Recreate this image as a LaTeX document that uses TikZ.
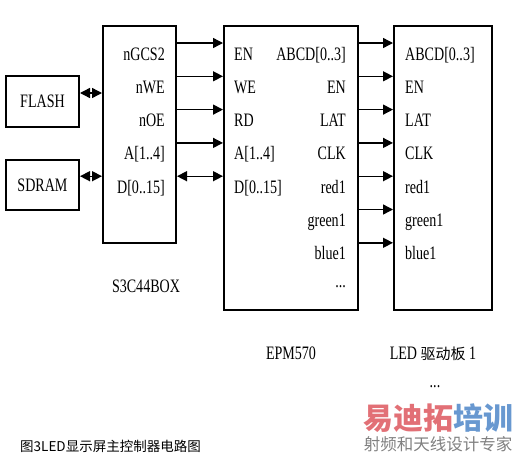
\documentclass[tikz,border=0pt]{standalone}
\usepackage{fontspec}
\setmainfont{Liberation Serif}[FakeStretch=0.74]
\newfontfamily\cjk{Noto Sans CJK SC}
\usetikzlibrary{arrows.meta}
\definecolor{wmred}{RGB}{226,112,118}
\definecolor{wmblue}{RGB}{104,152,208}
\definecolor{wmgrey}{RGB}{128,128,128}

\begin{document}
\begin{tikzpicture}[x=1pt, y=-1pt,
  box/.style = {draw, line width=2pt, rectangle, inner sep=0pt},
  pin/.style = {font=\fontsize{19}{19}\selectfont, inner sep=0pt},
  sig/.style = {line width=1.4pt, -{Triangle[length=10pt,width=10pt]}},
  bus/.style = {line width=1.4pt, {Triangle[length=10pt,width=10pt]}-{Triangle[length=10pt,width=10pt]}},
  title/.style = {font=\fontsize{19}{19}\selectfont, inner sep=0pt, anchor=base}]
  \useasboundingbox (0,0) rectangle (517,456);
  % boxes
  \node[box, pin, minimum width=73pt, minimum height=51pt] (flash) at (42.5,101.5) {FLASH};
  \node[box, pin, minimum width=73pt, minimum height=50pt] (sdram) at (42.5,185) {SDRAM};
  \node[box, minimum width=73pt, minimum height=217pt] (s3c) at (139.5,134.5) {};
  \node[box, minimum width=134pt, minimum height=284pt] (epm) at (291,168) {};
  \node[box, minimum width=98pt, minimum height=284pt] (led) at (443,168) {};
  % rows of signals
  \foreach \k in {0,...,7}
    \coordinate (row\k) at (0,{43+33.3*\k});
  \coordinate (flrow) at (0,93);
  % S3C44BOX pins
  \foreach \txt [count=\k from 0] in {nGCS2, nWE, nOE, {A[1..4]}, {D[0..15]}}
    \node[pin, anchor=base east] (s3c\k) at (165,{60+33.3*\k}) {\txt};
  % EPM570 pins
  \foreach \txt [count=\k from 0] in {EN, WE, RD, {A[1..4]}, {D[0..15]}}
    \node[pin, anchor=base west] (epmin\k) at (234,{60+33.3*\k}) {\txt};
  \foreach \txt [count=\k from 0] in {{ABCD[0..3]}, EN, LAT, CLK, red1, green1, blue1}
    \node[pin, anchor=base east] (epmout\k) at (346,{60+33.3*\k}) {\txt};
  \node[pin, anchor=base east] (epmmore) at (346,287) {...};
  % LED pins
  \foreach \txt [count=\k from 0] in {{ABCD[0..3]}, EN, LAT, CLK, red1, green1, blue1}
    \node[pin, anchor=base west] (ledin\k) at (405,{60+33.3*\k}) {\txt};
  % connectors
  \draw[bus] (flash.east |- flrow) -- (s3c.west |- flrow);
  \draw[bus] (sdram.east |- row4) -- (s3c.west |- row4);
  \foreach \k in {0,...,3}
    \draw[sig] (s3c.east |- row\k) -- (epm.west |- row\k);
  \draw[bus] (s3c.east |- row4) -- (epm.west |- row4);
  \foreach \k in {0,...,6}
    \draw[sig] (epm.east |- row\k) -- (led.west |- row\k);
  % names
  \node[title] (s3cname) at (146,292) {S3C44BOX};
  \node[title] (epmname) at (291,359) {EPM570};
  \node[title] (ledname) at (433,359) {LED {\fontsize{15}{15}\cjk 驱动板} 1};
  \node[title] (ledmore) at (435,387) {...};
  \node[anchor=base west, inner sep=0pt, font=\fontsize{13.5}{13.5}\cjk] (caption) at (20,451) {图3LED显示屏主控制器电路图};
  % watermark
  \node[inner sep=0pt, font=\fontsize{30}{30}\cjk\bfseries] (wmtop) at (438,418) {\textcolor{wmred}{易迪拓}\textcolor{wmblue}{培训}};
  \node[inner sep=0pt, font=\fontsize{16.5}{16.5}\cjk, text=wmgrey] (wmbot) at (438,444) {射频和天线设计专家};
\end{tikzpicture}
\end{document}
